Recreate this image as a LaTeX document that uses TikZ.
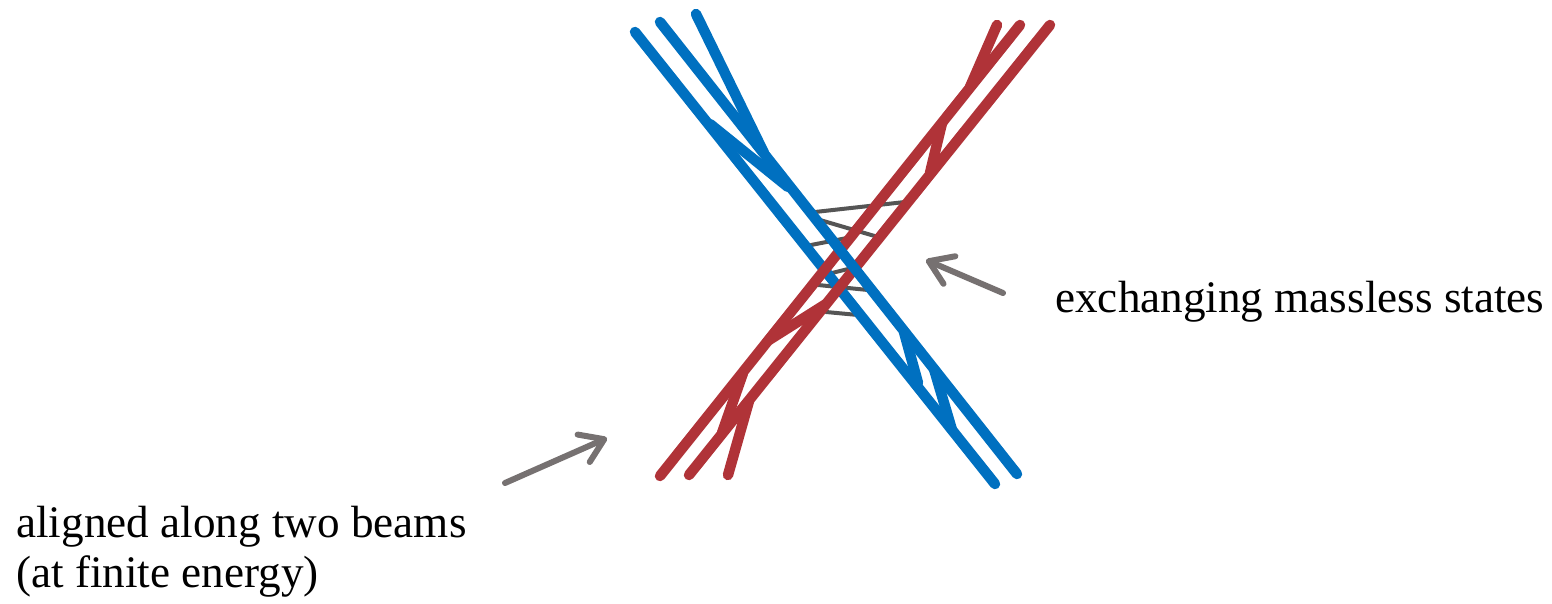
\documentclass[tikz,border=0pt]{standalone}
\usepackage{fontspec}
\setmainfont{Liberation Serif}
\usetikzlibrary{arrows.meta}
\usepackage{xcolor}
\definecolor{beamblue}{RGB}{0,112,192}
\definecolor{beamred}{RGB}{176,51,56}
\definecolor{gluongray}{RGB}{85,85,85}
\definecolor{pointergray}{RGB}{118,113,113}
\tikzset{
    % Lines
    beamBlue/.style={draw=beamblue, line width=0.21cm, line cap=round, line join=round},
    beamRed/.style={draw=beamred, line width=0.21cm, line cap=round, line join=round},
    gluon/.style={draw=gluongray, line width=0.08cm, line cap=round},
    pointer/.style={draw=pointergray, line width=0.12cm, line cap=round,
                    -{Straight Barb[length=0.45cm, width=0.6cm, line cap=round, round]}},
    % Labels
    lbl/.style={font=\fontsize{25.7}{30}\selectfont, inner sep=0pt, anchor=base west}
}

\begin{document}
\begin{tikzpicture}[x=0.02cm, y=-0.02cm]
\useasboundingbox (0,0) rectangle (1552,604);

% exchanged states
\draw[gluon] (815,212) -- (905,202);
\draw[gluon] (820,220) -- (878,237);
\draw[gluon] (811,245) -- (847,238);
\draw[gluon] (820,276) -- (852,268);
\draw[gluon] (818,285) -- (868,290);
\draw[gluon] (826,312) -- (858,315);

% first beam
\draw[beamBlue] (635,32) -- (995,484);
\draw[beamBlue] (696,14) -- (764,153);
\draw[beamBlue] (710,124) -- (788,187);
\draw[beamBlue] (904,332) -- (918,383);
\draw[beamBlue] (934,369) -- (952,430);

% second beam
\draw[beamRed] (660,476) -- (1020,25);
\draw[beamRed] (689,475) -- (1050,25);
\draw[beamRed] (997,25) -- (970,87);
\draw[beamRed] (942,123) -- (930,173);
\draw[beamRed] (769,340) -- (826,304);
\draw[beamRed] (722,433) -- (743,373);
\draw[beamRed] (728,475) -- (749,401);

\draw[beamBlue] (660,22) -- (1017,474);

% labels
\node[lbl] (states) at (1055,313) {exchanging massless states};
\node[lbl] (beams) at (16,537) {aligned along two beams};
\node[lbl] (energy) at (16,587) {(at finite energy)};

\coordinate (statesTail) at (1003,293);
\coordinate (statesTip) at (926,260);
\coordinate (beamsTail) at (505,483);
\coordinate (beamsTip) at (607,438);
\draw[pointer] (statesTail) -- (statesTip);
\draw[pointer] (beamsTail) -- (beamsTip);

\end{tikzpicture}
\end{document}
